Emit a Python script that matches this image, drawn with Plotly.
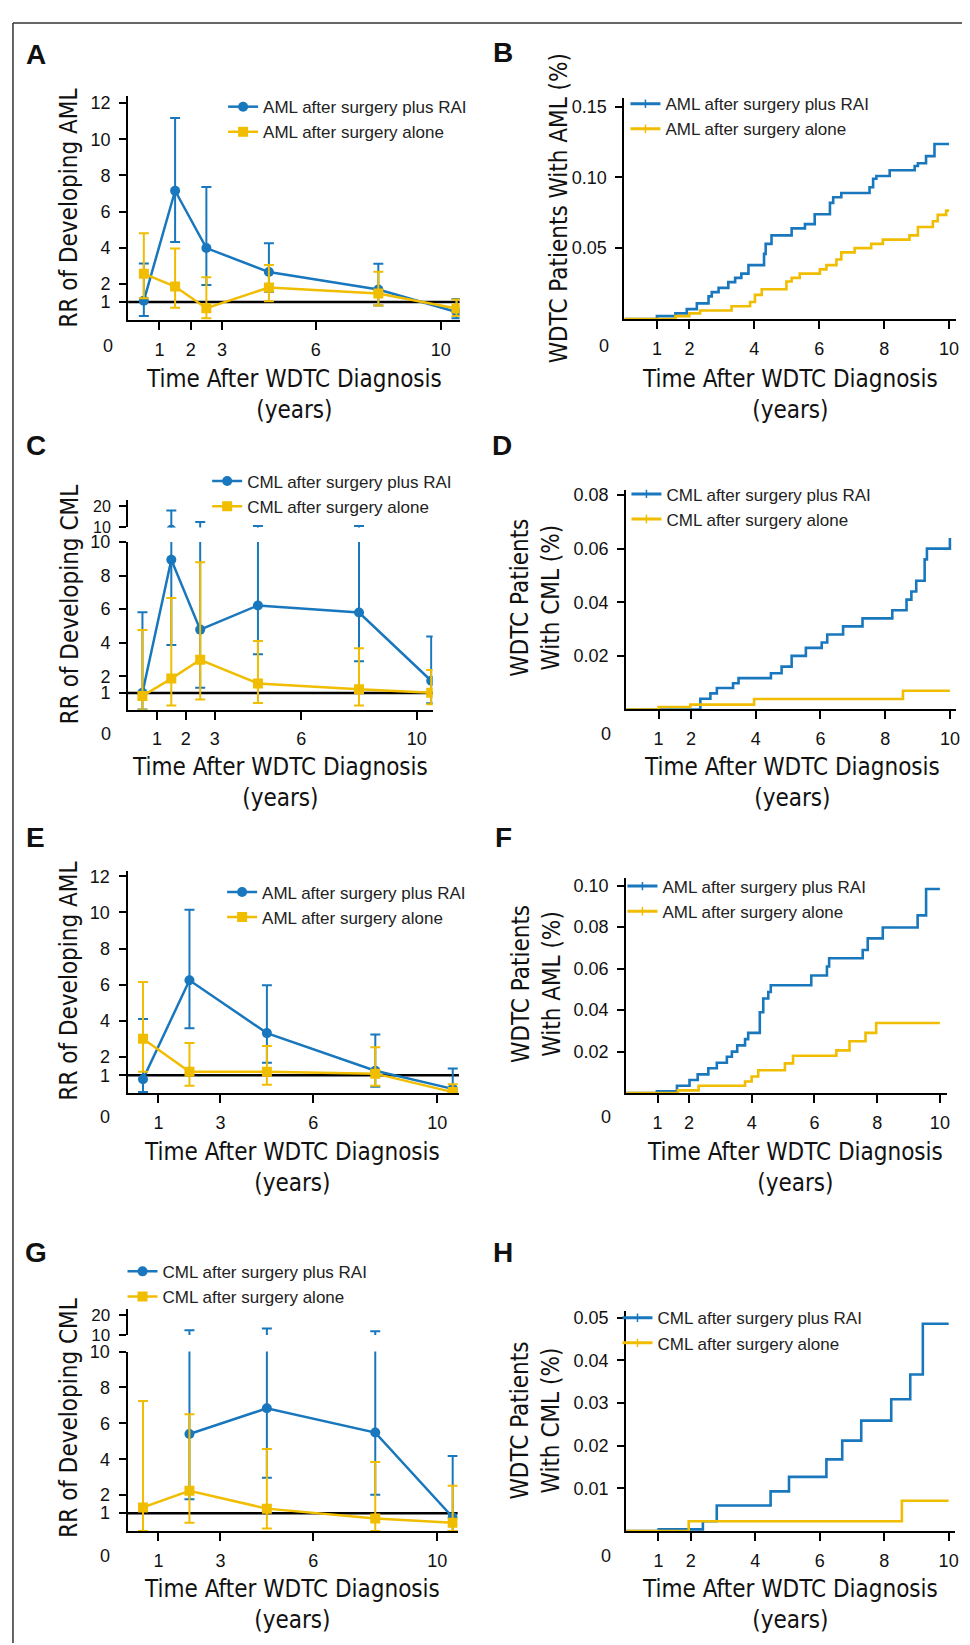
import plotly.graph_objects as go

W, H = 970, 1645
BLUE = "#1877bd"
YELLOW = "#f0bd00"
TICK_FONT = "Liberation Sans, Arial, Helvetica, sans-serif"
TITLE_FONT = "Liberation Sans Narrow, DejaVu Sans Condensed, Arial Narrow, sans-serif"

# ---------------- DATA ----------------
# Panel A: RR of developing AML
a_time = [0.5, 1.5, 2.5, 4.5, 8, 10.5]
a_rai_rr = [1.07, 7.15, 3.98, 2.65, 1.69, 0.44]
a_rai_hi = [3.13, 11.18, 7.35, 4.24, 3.11, 1.16]
a_rai_lo = [0.22, 4.31, 1.93, 1.56, 0.80, 0.09]
a_alone_rr = [2.56, 1.85, 0.65, 1.80, 1.47, 0.64]
a_alone_hi = [4.80, 3.96, 2.36, 3.04, 2.67, 1.13]
a_alone_lo = [1.20, 0.67, 0.09, 1.04, 0.80, 0.22]

# Panel B: cumulative AML incidence
b_rai_t = [0, 1.0, 1.57, 1.92, 2.23, 2.59, 2.69, 2.9, 3.2, 3.41, 3.6, 3.82, 4.3, 4.35, 4.53, 5.15,
           5.56, 5.86, 6.33, 6.43, 6.68, 7.55, 7.66, 7.76, 8.17, 8.94, 9.04, 9.29, 9.55, 10.0]
b_rai_y = [0, 0.002, 0.004, 0.007, 0.011, 0.016, 0.019, 0.022, 0.026, 0.029, 0.032, 0.038, 0.046,
           0.053, 0.059, 0.064, 0.067, 0.074, 0.082, 0.086, 0.089, 0.093, 0.099, 0.101, 0.105, 0.108,
           0.110, 0.115, 0.1235, 0.1235]
b_alone_t = [0, 1.57, 2.0, 2.33, 3.3, 3.87, 4.02, 4.23, 4.99, 5.15, 5.4, 6.02, 6.22, 6.53, 6.68,
             7.09, 7.6, 7.96, 8.78, 9.04, 9.5, 9.65, 9.91, 10.0]
b_alone_y = [0, 0.002, 0.004, 0.006, 0.009, 0.012, 0.017, 0.021, 0.0265, 0.029, 0.032, 0.035, 0.038,
             0.042, 0.047, 0.050, 0.053, 0.056, 0.059, 0.065, 0.069, 0.0735, 0.0765, 0.0765]

# Panel C: RR of developing CML
c_time = [0.5, 1.5, 2.5, 4.5, 8, 10.5]
c_rai_rr = [1.02, 8.94, 4.78, 6.22, 5.80, 1.73]
c_rai_hi = [5.82, 17.9, 12.5, 10.7, 10.7, 4.37]
c_rai_lo = [0.02, 3.86, 1.31, 3.31, 2.90, 0.39]
c_alone_rr = [0.82, 1.86, 2.98, 1.57, 1.22, 1.02]
c_alone_hi = [4.75, 6.67, 8.80, 4.10, 3.67, 2.37]
c_alone_lo = [0.0, 0.25, 0.61, 0.41, 0.25, 0.33]

# Panel D: cumulative CML incidence
d_rai_t = [0, 2.29, 2.6, 2.8, 3.3, 3.47, 4.47, 4.8, 5.11, 5.55, 6.04, 6.21, 6.7, 7.3, 8.22, 8.66,
           8.81, 8.96, 9.22, 9.29, 10.0]
d_rai_y = [0, 0.004, 0.006, 0.008, 0.0098, 0.0117, 0.0135, 0.016, 0.020, 0.023, 0.025, 0.028, 0.031,
           0.034, 0.037, 0.041, 0.044, 0.048, 0.056, 0.060, 0.064]
d_alone_t = [0, 1.0, 1.98, 3.95, 8.55, 10.0]
d_alone_y = [0, 0.0009, 0.0018, 0.0039, 0.0070, 0.0070]

# Panel E: RR of developing AML
e_time = [0.5, 2, 4.5, 8, 10.5]
e_rai_rr = [0.78, 6.25, 3.33, 1.25, 0.25]
e_rai_hi = [4.11, 10.15, 5.98, 3.25, 1.38]
e_rai_lo = [0.07, 3.60, 1.69, 0.36, 0.07]
e_alone_rr = [3.02, 1.20, 1.20, 1.09, 0.07]
e_alone_hi = [6.15, 2.78, 2.62, 2.55, 0.51]
e_alone_lo = [1.20, 0.42, 0.47, 0.42, 0.0]

# Panel F: cumulative AML incidence
f_rai_t = [0, 0.98, 1.62, 2.02, 2.28, 2.62, 2.89, 3.21, 3.37, 3.54, 3.79, 3.89, 4.26, 4.37, 4.53,
           4.61, 5.9, 6.4, 6.47, 7.54, 7.7, 8.18, 9.29, 9.56, 10.0]
f_rai_y = [0, 0.0008, 0.0035, 0.0063, 0.009, 0.012, 0.0146, 0.0175, 0.020, 0.023, 0.026, 0.029,
           0.039, 0.0456, 0.0487, 0.052, 0.0567, 0.061, 0.065, 0.069, 0.0746, 0.0798, 0.0857,
           0.0984, 0.0984]
f_alone_t = [0, 1.65, 2.31, 3.79, 4.0, 4.21, 5.06, 5.32, 6.7, 7.12, 7.63, 7.97, 10.0]
f_alone_y = [0, 0.0013, 0.0035, 0.0056, 0.008, 0.011, 0.0143, 0.018, 0.0206, 0.025, 0.029,
             0.0338, 0.0338]

# Panel G: RR of developing CML
g_rai_time = [2, 4.5, 8, 10.5]
g_rai_rr = [5.41, 6.84, 5.49, 0.77]
g_rai_hi = [12.5, 13.3, 12.0, 4.18]
g_rai_lo = [1.78, 2.97, 2.02, 0.0]
g_alone_time = [0.5, 2, 4.5, 8, 10.5]
g_alone_rr = [1.32, 2.24, 1.25, 0.70, 0.46]
g_alone_hi = [7.25, 6.51, 4.57, 3.85, 2.53]
g_alone_lo = [0.0, 0.46, 0.15, 0.0, 0.0]

# Panel H: cumulative CML incidence
h_rai_t = [0, 1.01, 2.38, 2.81, 4.48, 5.05, 6.21, 6.7, 7.29, 8.22, 8.81, 9.2, 10.0]
h_rai_y = [0, 0.0004, 0.0023, 0.006, 0.0093, 0.0127, 0.0168, 0.0212, 0.0259, 0.0309, 0.0367,
           0.0486, 0.0486]
h_alone_t = [0, 1.94, 8.55, 10.0]
h_alone_y = [0, 0.0023, 0.0071, 0.0071]

RR_X_TICKS_A = [1, 2, 3, 6, 10]
RR_X_TICKS_E = [1, 3, 6, 10]
CI_X_TICKS = [1, 2, 4, 6, 8, 10]

# ---------------- HELPERS ----------------
fig = go.Figure()
layout = {}
shapes = []
annotations = []


def fx(p):
    return p / W


def fy(p):
    return 1 - p / H


def ax_names(n):
    return ("x" if n == 1 else f"x{n}"), ("y" if n == 1 else f"y{n}")


def add_axes(n, xpx, ypx, xr, yr, xticks, yticks, yticktext=None, show_x=True, tfs=18):
    xn, yn = ax_names(n)
    common = dict(showgrid=False, zeroline=False, showline=True, linewidth=2, linecolor="black",
                  ticks="outside", tickwidth=2, tickcolor="black")
    layout["xaxis" if n == 1 else f"xaxis{n}"] = dict(
        domain=[fx(xpx[0]), fx(xpx[1])], range=xr, anchor=yn, tickvals=xticks,
        ticklen=8, ticklabelstandoff=4, visible=show_x,
        tickfont=dict(family=TICK_FONT, size=18, color="#111"), **common)
    yd = dict(domain=[fy(ypx[1]), fy(ypx[0])], range=yr, anchor=xn, tickvals=yticks,
              ticklen=7, ticklabelstandoff=5,
              tickfont=dict(family=TICK_FONT, size=tfs, color="#111"), **common)
    if yticktext is not None:
        yd["ticktext"] = yticktext
    layout["yaxis" if n == 1 else f"yaxis{n}"] = yd


def rr_trace(n, t, rr, hi, lo, color, symbol, name, legend, group, showlegend=True):
    xn, yn = ax_names(n)
    fig.add_trace(go.Scatter(
        x=t, y=rr, mode="lines+markers", name=name,
        line=dict(color=color, width=2.5),
        marker=dict(symbol=symbol, size=10, color=color),
        error_y=dict(type="data", symmetric=False,
                     array=[h - r for h, r in zip(hi, rr)],
                     arrayminus=[r - l for r, l in zip(rr, lo)],
                     color=color, thickness=2, width=5),
        xaxis=xn, yaxis=yn, legend=legend, legendgroup=group, showlegend=showlegend))


def ci_trace(n, t, y, color, name, legend, group):
    xn, yn = ax_names(n)
    fig.add_trace(go.Scatter(x=t, y=y, mode="lines", line=dict(color=color, width=2.6, shape="hv"),
                             xaxis=xn, yaxis=yn, showlegend=False, legendgroup=group, legend=legend))
    # legend-only entry (line with censor tick)
    fig.add_trace(go.Scatter(x=[None], y=[None], mode="lines+markers", name=name,
                             line=dict(color=color, width=3),
                             marker=dict(symbol="line-ns-open", size=6,
                                         line=dict(color=color, width=1.5)),
                             xaxis=xn, yaxis=yn, legend=legend, legendgroup=group))


def ref_line(n):
    xn, yn = ax_names(n)
    shapes.append(dict(type="line", xref=f"{xn} domain", yref=yn, x0=0, x1=1, y0=1, y1=1,
                       line=dict(color="black", width=2.5), layer="below"))


def add_legend(key, text_x, row1_y):
    layout[key] = dict(x=fx(text_x - 47), y=fy(row1_y - 18), xanchor="left", yanchor="top",
                       bgcolor="rgba(0,0,0,0)", tracegroupgap=0,
                       font=dict(family=TICK_FONT, size=17, color="#222"))


def text(x, y, s, size, family=TICK_FONT, angle=0, bold=False):
    annotations.append(dict(xref="paper", yref="paper", x=fx(x), y=fy(y), text=f"<b>{s}</b>" if bold else s,
                            showarrow=False, textangle=angle, xanchor="center", yanchor="middle",
                            font=dict(family=family, size=size, color="#111")))


XT = "Time After WDTC Diagnosis<br>(years)"

# ---------------- PANEL A ----------------
add_axes(1, (120.7, 453.5), (78.8, 305.7), [0, 10.6], [0, 12.4], RR_X_TICKS_A, [1, 2, 4, 6, 8, 10, 12])
ref_line(1)
rr_trace(1, a_time, a_rai_rr, a_rai_hi, a_rai_lo, BLUE, "circle", "AML after surgery plus RAI", "legend", "a1")
rr_trace(1, a_time, a_alone_rr, a_alone_hi, a_alone_lo, YELLOW, "square", "AML after surgery alone", "legend", "a2")
add_legend("legend", 263, 90)

# ---------------- PANEL B ----------------
add_axes(2, (619, 951.5), (81, 304.7), [0, 10.2], [0, 0.156], CI_X_TICKS, [0.05, 0.10, 0.15],
         ["0.05", "0.10", "0.15"])
ci_trace(2, b_rai_t, b_rai_y, BLUE, "AML after surgery plus RAI", "legend2", "b1")
ci_trace(2, b_alone_t, b_alone_y, YELLOW, "AML after surgery alone", "legend2", "b2")
add_legend("legend2", 667, 87)

# ---------------- PANEL C (broken axis) ----------------
add_axes(3, (120.5, 426.4), (530.5, 700.3), [0, 10.55], [0, 10], RR_X_TICKS_A, [1, 2, 4, 6, 8, 10])
add_axes(4, (120.5, 426.4), (487.5, 515.7), [0, 10.55], [10, 23], RR_X_TICKS_A, [10, 20], show_x=False,
         tfs=16)
ref_line(3)
rr_trace(3, c_time, c_rai_rr, c_rai_hi, c_rai_lo, BLUE, "circle", "CML after surgery plus RAI", "legend3", "c1")
rr_trace(3, c_time, c_alone_rr, c_alone_hi, c_alone_lo, YELLOW, "square", "CML after surgery alone", "legend3", "c2")
rr_trace(4, c_time, c_rai_rr, c_rai_hi, c_rai_lo, BLUE, "circle", "CML after surgery plus RAI", "legend3", "c1", False)
rr_trace(4, c_time, c_alone_rr, c_alone_hi, c_alone_lo, YELLOW, "square", "CML after surgery alone", "legend3", "c2", False)
add_legend("legend3", 247, 469)

# ---------------- PANEL D ----------------
add_axes(5, (620.8, 952.3), (478.3, 700), [0, 10.2], [0, 0.0817], CI_X_TICKS, [0.02, 0.04, 0.06, 0.08],
         ["0.02", "0.04", "0.06", "0.08"])
ci_trace(5, d_rai_t, d_rai_y, BLUE, "CML after surgery plus RAI", "legend4", "d1")
ci_trace(5, d_alone_t, d_alone_y, YELLOW, "CML after surgery alone", "legend4", "d2")
add_legend("legend4", 668, 482)

# ---------------- PANEL E ----------------
add_axes(6, (120, 452.8), (863.3, 1088.6), [0, 10.7], [0, 12.3], RR_X_TICKS_E, [1, 2, 4, 6, 8, 10, 12])
ref_line(6)
rr_trace(6, e_time, e_rai_rr, e_rai_hi, e_rai_lo, BLUE, "circle", "AML after surgery plus RAI", "legend5", "e1")
rr_trace(6, e_time, e_alone_rr, e_alone_hi, e_alone_lo, YELLOW, "square", "AML after surgery alone", "legend5", "e2")
add_legend("legend5", 262, 885)

# ---------------- PANEL F ----------------
add_axes(7, (620.7, 943), (871, 1088.3), [0, 10.23], [0, 0.1035], CI_X_TICKS,
         [0.02, 0.04, 0.06, 0.08, 0.10], ["0.02", "0.04", "0.06", "0.08", "0.10"])
ci_trace(7, f_rai_t, f_rai_y, BLUE, "AML after surgery plus RAI", "legend6", "f1")
ci_trace(7, f_alone_t, f_alone_y, YELLOW, "AML after surgery alone", "legend6", "f2")
add_legend("legend6", 664, 879)

# ---------------- PANEL G (broken axis) ----------------
add_axes(8, (120, 451.5), (1350, 1531.7), [0, 10.66], [0, 10], RR_X_TICKS_E, [1, 2, 4, 6, 8, 10])
add_axes(9, (120, 451.5), (1307.3, 1333.3), [0, 10.66], [10, 23], RR_X_TICKS_E, [10, 20], show_x=False,
         tfs=17)
ref_line(8)
rr_trace(8, g_rai_time, g_rai_rr, g_rai_hi, g_rai_lo, BLUE, "circle", "CML after surgery plus RAI", "legend7", "g1")
rr_trace(8, g_alone_time, g_alone_rr, g_alone_hi, g_alone_lo, YELLOW, "square", "CML after surgery alone", "legend7", "g2")
rr_trace(9, g_rai_time, g_rai_rr, g_rai_hi, g_rai_lo, BLUE, "circle", "CML after surgery plus RAI", "legend7", "g1", False)
rr_trace(9, g_alone_time, g_alone_rr, g_alone_hi, g_alone_lo, YELLOW, "square", "CML after surgery alone", "legend7", "g2", False)
add_legend("legend7", 162, 1269)

# ---------------- PANEL H ----------------
add_axes(10, (620.7, 951), (1309.3, 1531.7), [0, 10.2], [0, 0.0515], CI_X_TICKS,
         [0.01, 0.02, 0.03, 0.04, 0.05], ["0.01", "0.02", "0.03", "0.04", "0.05"])
ci_trace(10, h_rai_t, h_rai_y, BLUE, "CML after surgery plus RAI", "legend8", "h1")
ci_trace(10, h_alone_t, h_alone_y, YELLOW, "CML after surgery alone", "legend8", "h2")
add_legend("legend8", 659, 1316)

# ---------------- TEXT ----------------
for lab, x, y in [("A", 28, 37), ("B", 497, 35), ("C", 28, 433), ("D", 496, 433),
                  ("E", 28, 830), ("F", 498, 830), ("G", 28, 1250), ("H", 497, 1250)]:
    text(x, y, lab, 28, bold=True)

for x, y in [(100, 331.7), (598, 331.7), (98, 725), (600, 725), (97, 1113), (600, 1113),
             (97, 1557), (600, 1557)]:
    text(x, y, "0", 18)

for x, y in [(287, 381), (785, 381), (273, 774), (787, 774), (285, 1164), (790, 1164),
             (285, 1606), (785, 1606)]:
    text(x, y, XT, 24, family=TITLE_FONT)

text(61.7, 192.5, "RR of Developing AML", 24, TITLE_FONT, -90)
text(553, 193, "WDTC Patients With AML (%)", 24, TITLE_FONT, -90)
text(61.7, 594, "RR of Developing CML", 24, TITLE_FONT, -90)
text(530, 587, "WDTC Patients<br>With CML (%)", 24, TITLE_FONT, -90)
text(61.7, 975, "RR of Developing AML", 24, TITLE_FONT, -90)
text(530, 978, "WDTC Patients<br>With AML (%)", 24, TITLE_FONT, -90)
text(61.7, 1417.5, "RR of Developing CML", 24, TITLE_FONT, -90)
text(530, 1420, "WDTC Patients<br>With CML (%)", 24, TITLE_FONT, -90)

# frame
shapes.append(dict(type="line", xref="paper", yref="paper", x0=fx(5), x1=1, y0=fy(5), y1=fy(5),
                   line=dict(color="#333", width=1.5)))
shapes.append(dict(type="line", xref="paper", yref="paper", x0=fx(5), x1=fx(5), y0=fy(5), y1=0,
                   line=dict(color="#333", width=1.5)))

layout.update(dict(width=W, height=H, margin=dict(l=0, r=0, t=0, b=0), paper_bgcolor="white",
                   plot_bgcolor="rgba(0,0,0,0)", showlegend=True, shapes=shapes,
                   annotations=annotations))
fig.update_layout(**layout)
fig.write_html("out.html")
